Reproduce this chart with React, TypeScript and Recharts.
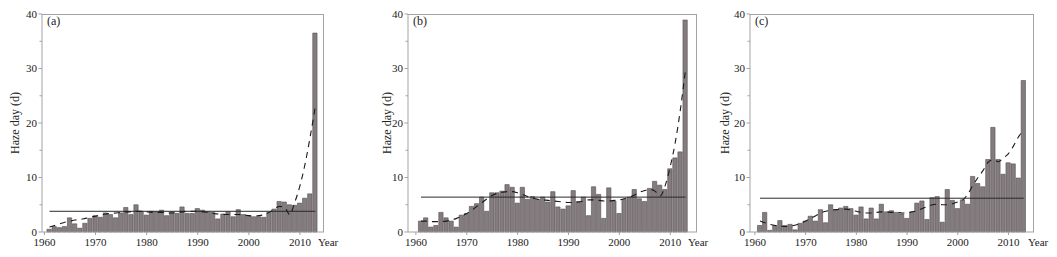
import React from 'react';
import { ComposedChart, Bar, Line, XAxis, YAxis, ReferenceLine } from 'recharts';

const years = Array.from({ length: 53 }, (_, i) => 1961 + i);

const hazeA = [
  0.5, 1.0, 0.8, 1.0, 2.6, 1.5, 0.7, 1.6, 2.5, 3.0,
  2.7, 3.5, 3.2, 2.6, 3.5, 4.5, 3.2, 5.0, 3.8, 3.1,
  3.8, 3.7, 4.0, 3.0, 3.7, 3.4, 4.6, 3.4, 3.4, 4.3,
  4.0, 3.7, 3.6, 2.4, 3.3, 3.7, 2.8, 4.1, 3.2, 3.0,
  2.8, 2.8, 2.7, 3.6, 4.2, 5.6, 5.5, 5.0, 4.9, 5.3,
  6.2, 7.0, 36.5,
];
const trendA = [
  0.9, 1.2, 1.5, 1.8, 2.0, 2.2, 2.3, 2.5, 2.7, 2.9,
  3.1, 3.3, 3.4, 3.5, 3.6, 3.7, 3.7, 3.8, 3.8, 3.7,
  3.6, 3.6, 3.6, 3.5, 3.5, 3.6, 3.7, 3.8, 3.8, 3.8,
  3.7, 3.6, 3.4, 3.3, 3.2, 3.2, 3.2, 3.2, 3.1, 3.0,
  2.9, 3.0, 3.2, 3.6, 4.2, 4.7, 4.5, 3.2, 5.5, 8.5,
  12.5, 17.5, 23.0,
];

const hazeB = [
  2.0, 2.6, 0.9, 1.2, 3.6, 2.6, 2.0, 0.9, 3.1, 3.4,
  4.7, 5.2, 6.4, 3.8, 7.2, 7.2, 7.5, 8.7, 8.2, 5.3,
  8.2, 6.0, 6.5, 6.0, 6.4, 5.5, 7.4, 4.6, 4.2, 4.8,
  7.6, 5.6, 6.4, 3.0, 8.3, 6.9, 2.5, 8.1, 5.7, 3.4,
  6.0, 6.4, 7.8, 6.1, 5.6, 8.0, 9.3, 8.6, 7.8, 11.6,
  13.6, 14.7, 38.9,
];
const trendB = [
  2.0, 2.0, 1.9, 1.9, 1.9, 2.0, 2.2, 2.5, 2.9, 3.4,
  4.0, 4.7, 5.4, 6.1, 6.7, 7.1, 7.3, 7.4, 7.4, 7.2,
  6.9, 6.5, 6.2, 6.0, 5.9, 5.8, 5.7, 5.6, 5.5, 5.4,
  5.4, 5.5, 5.7, 5.9, 5.9, 5.8, 5.7, 5.7, 5.8, 5.9,
  6.1, 6.4, 6.8, 7.3, 7.6, 7.8, 7.5, 6.6, 8.5, 12.0,
  16.5, 22.5, 29.8,
];

const hazeC = [
  1.2, 3.6, 0.3, 1.2, 2.1, 1.2, 1.4, 0.4, 1.6, 2.0,
  2.9, 2.0, 4.1, 1.7, 5.0, 4.1, 4.4, 4.7, 4.3, 3.1,
  4.6, 2.4, 4.4, 2.4, 5.1, 3.7, 3.9, 3.6, 3.3, 2.5,
  3.7, 5.3, 5.7, 2.3, 6.3, 6.5, 1.8, 7.8, 5.8, 4.3,
  5.9, 5.1, 10.2, 8.9, 8.3, 13.3, 19.2, 13.3, 10.6, 12.7,
  12.5, 9.9, 27.8,
];
const trendC = [
  2.0, 1.7, 1.4, 1.2, 1.1, 1.0, 1.1, 1.3, 1.6, 2.0,
  2.5, 3.0, 3.5, 3.8, 4.0, 4.1, 4.2, 4.2, 4.0, 3.8,
  3.6, 3.5, 3.5, 3.6, 3.7, 3.7, 3.6, 3.6, 3.5, 3.5,
  3.7, 3.9, 4.3, 4.7, 5.0, 5.1, 5.0, 5.0, 5.2, 5.5,
  5.9, 7.0, 8.6, 10.0, 11.3, 12.8, 13.3, 12.9, 13.6, 14.4,
  15.8, 17.5, 18.7,
];

const panelNames = ['(a)', '(b)', '(c)'];
const meanValues = [3.8, 6.4, 6.2];
const xTicks = [1960, 1970, 1980, 1990, 2000, 2010];
const yTicks = [0, 5, 10, 15, 20, 25, 30, 35, 40];

const FONT = '"Times New Roman", "Liberation Serif", serif';
const AXIS = '#a3a3a3';

const YTick = (props: any) => {
  const { x, y, payload } = props;
  const v = payload.value;
  const major = v % 10 === 0;
  const ax = x + 4;
  return (
    <g>
      <line x1={ax - (major ? 3.5 : 2.5)} y1={y} x2={ax} y2={y} stroke={AXIS} strokeWidth={1} />
      {major && (
        <text x={x - 1} y={y} dy="0.35em" textAnchor="end" fontSize={11} fill="#222" fontFamily={FONT}>
          {v}
        </text>
      )}
    </g>
  );
};

interface PanelProps {
  idx: number;
  values: number[];
  trend: number[];
  domain: [number, number];
  left: number;
  width: number;
  labelX: number;
  yearX: number;
}

const Panel = ({ idx, values, trend, domain, left, width, labelX, yearX }: PanelProps) => {
  const data = years.map((yr, i) => ({ year: yr, haze: values[i], trend: trend[i] }));
  const mean = meanValues[idx];
  return (
    <div style={{ position: 'absolute', left, top: 0, width, height: 257 }}>
      <ComposedChart width={width} height={257} data={data} margin={{ top: 14, right: 16, left: 0, bottom: 0 }}>
        <XAxis
          dataKey="year"
          type="number"
          domain={domain}
          ticks={xTicks}
          allowDataOverflow
          height={25}
          tickSize={3}
          tickMargin={3}
          stroke={AXIS}
          tick={{ fontSize: 11, fill: '#222', fontFamily: FONT }}
        />
        <YAxis
          type="number"
          domain={[0, 40]}
          ticks={yTicks}
          width={42}
          interval={0}
          stroke={AXIS}
          tickLine={false}
          tickSize={4}
          tickMargin={0}
          tick={<YTick />}
        />
        <Bar dataKey="haze" barSize={4.3} fill="#847c7e" stroke="#554f51" strokeWidth={0.6} isAnimationActive={false} />
        <ReferenceLine
          segment={[{ x: 1961, y: mean }, { x: 2013, y: mean }]}
          stroke="#2a2a2a"
          strokeWidth={1}
        />
        <Line
          dataKey="trend"
          type="monotone"
          stroke="#1a1a1a"
          strokeWidth={1.1}
          strokeDasharray="6 5"
          dot={false}
          isAnimationActive={false}
        />
      </ComposedChart>
      <div style={{ position: 'absolute', left: 42, top: 14, width: width - 58, height: 218, borderTop: `1px solid ${AXIS}`, borderRight: `1px solid ${AXIS}`, boxSizing: 'border-box', pointerEvents: 'none' }} />
      <div style={{ position: 'absolute', left: 47, top: 14, fontSize: 12, color: '#222', fontFamily: FONT }}>{panelNames[idx]}</div>
      <div style={{ position: 'absolute', left: yearX, top: 236, fontSize: 11, color: '#222', fontFamily: FONT }}>Year</div>
      <div
        style={{
          position: 'absolute',
          left: labelX - 50,
          top: 123 - 8,
          width: 100,
          height: 16,
          lineHeight: '16px',
          textAlign: 'center',
          transform: 'rotate(-90deg)',
          fontSize: 12,
          color: '#222',
          fontFamily: FONT,
        }}
      >
        Haze day (d)
      </div>
    </div>
  );
};

export default function App() {
  return (
    <div style={{ position: 'fixed', left: 0, top: 0, width: 1057, height: 257, background: '#fff', overflow: 'hidden' }}>
      <Panel idx={0} values={hazeA} trend={trendA} domain={[1959.53, 2014.7]} left={0} width={340} labelX={15} yearX={318} />
      <Panel idx={1} values={hazeB} trend={trendB} domain={[1958.45, 2015.26]} left={366} width={347} labelX={21} yearX={322} />
      <Panel idx={2} values={hazeC} trend={trendC} domain={[1959.03, 2015.03]} left={708} width={342} labelX={17} yearX={320} />
    </div>
  );
}
